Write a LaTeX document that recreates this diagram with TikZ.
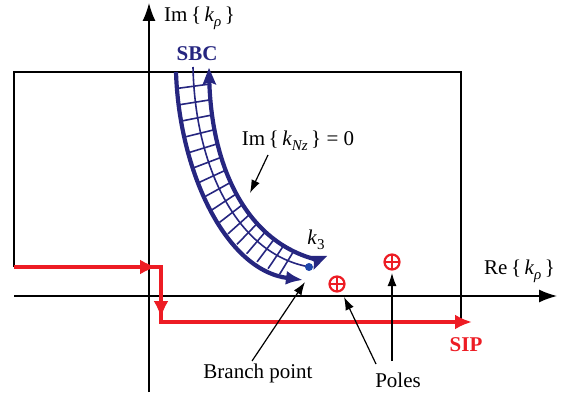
\documentclass[tikz,border=0pt]{standalone}
\usepackage{fontspec}
\setmainfont{Liberation Serif}
\usetikzlibrary{arrows.meta,calc}
\definecolor{navy}{RGB}{38,38,128}
\definecolor{dotblue}{RGB}{30,70,170}
\definecolor{sred}{RGB}{237,28,36}
\newcommand\subsc[1]{\raisebox{-5pt}{\fontsize{15}{15}\selectfont #1}}
\begin{document}
\begin{tikzpicture}[x=1pt,y=-1pt,
  lbl/.style={font=\fontsize{21}{24}\selectfont, inner sep=0pt},
  blbl/.style={font=\fontsize{21}{24}\selectfont\bfseries, inner sep=0pt},
  axis/.style={line width=1.4pt,-{Latex[length=18pt,width=13pt]}},
  frame/.style={line width=1.8pt},
  redpath/.style={draw=sred,line width=3.5pt},
  redtip/.style={-{Latex[length=17pt,width=15pt]}},
  bthick/.style={draw=navy,line width=4.2pt},
  bthin/.style={draw=navy,line width=1.6pt},
  btip/.style={-{Latex[length=17pt,width=14pt]}},
  ptr/.style={line width=1.2pt,-{Latex[length=13pt,width=9pt]}},
  pole/.style={circle,draw=sred,line width=2.2pt,minimum size=15pt,inner sep=0pt,
    path picture={\draw[sred,line width=2pt] (path picture bounding box.north) -- (path picture bounding box.south) (path picture bounding box.west) -- (path picture bounding box.east);}}
]
\useasboundingbox (0,0) rectangle (565,398);

% axes
\coordinate (xa0) at (14,296); \coordinate (xa1) at (557,296);
\coordinate (ya0) at (149,392); \coordinate (ya1) at (149,3);
\draw[axis] (xa0) -- (xa1);
\draw[axis] (ya0) -- (ya1);

% frame
\coordinate (f1) at (14,267); \coordinate (f2) at (14,72);
\coordinate (f3) at (461,72); \coordinate (f4) at (461,322);
\draw[frame] (f1) -- (f2) -- (f3) -- (f4);

% red SIP path
\coordinate (r1) at (14,267); \coordinate (r2) at (161,267);
\coordinate (r3) at (161,322); \coordinate (r4) at (472,322);
\coordinate (a1) at (140,267); \coordinate (a1t) at (157,267);
\coordinate (a2) at (161,300); \coordinate (a2t) at (161,318);
\draw[redpath,redtip] (r1) -- (r2) -- (r3) -- (r4);
\draw[redpath,redtip] (a1) -- (a1t);
\draw[redpath,redtip] (a2) -- (a2t);

% blue band
\coordinate (Ls) at (176,72); \coordinate (L1c) at (179,170);
\coordinate (L2c) at (225,270); \coordinate (Le) at (303,280);
\coordinate (Us) at (209,68); \coordinate (U1c) at (211,165);
\coordinate (U2c) at (245,240); \coordinate (Ue) at (314,259);
\coordinate (Ms) at (193,67); \coordinate (M1c) at (195,168);
\coordinate (M2c) at (238,255); \coordinate (Me) at (310,267);
\foreach \i in {1,...,16}{
  \pgfmathsetmacro\tpos{0.056*\i}
  \path (Ls) .. controls (L1c) and (L2c) .. (Le) coordinate[pos=\tpos] (L\i);
  \path (Us) .. controls (U1c) and (U2c) .. (Ue) coordinate[pos=\tpos] (U\i);
  \draw[bthin] (L\i) -- (U\i);
}
\draw[bthin] (Ms) .. controls (M1c) and (M2c) .. (Me);
\draw[bthick,btip] (Ls) .. controls (L1c) and (L2c) .. (Le);
\draw[bthick,shorten <=10pt] (Us) .. controls (U1c) and (U2c) .. (Ue);
% arrowheads of the inner curve
\coordinate (UsB) at ($(Us)!17pt!(U1c)$);
\fill[navy] (Us) -- ($(UsB)!7pt!90:(Us)$) -- ($(UsB)!3pt!(Us)$) -- ($(UsB)!7pt!-90:(Us)$) -- cycle;
\coordinate (UeT) at (327,256);
\fill[navy] (UeT) -- (313.5,270) -- (314,262) -- (308.5,256) -- cycle;
\node[circle,fill=dotblue,inner sep=0pt,minimum size=8pt] (k3pt) at (309,267) {};

% poles
\node[pole] (p1) at (337,284) {};
\node[pole] (p2) at (392,262) {};

% labels
\node[lbl,anchor=west] (imk) at (164,18) {Im\,\{\,\textit{k}\subsc{\textit{ρ}}\,\}};
\node[lbl,anchor=west] (rek) at (484,271) {Re\,\{\,\textit{k}\subsc{\textit{ρ}}\,\}};
\node[blbl,text=navy] (sbc) at (197,54) {SBC};
\node[blbl,text=sred] (sip) at (466,345) {SIP};
\node[lbl] (imkn) at (298,141) {Im\,\{\,\textit{k}\subsc{\textit{Nz}}\,\} = 0};
\node[lbl] (k3) at (316,240) {\textit{k}\subsc{3}};
\node[lbl] (bp) at (258,373) {Branch point};
\node[lbl] (poles) at (398,380) {Poles};

% pointers
\coordinate (bps) at (252,361); \coordinate (bpt) at (305,282);
\draw[ptr] (bps) -- (bpt);
\coordinate (pa1) at (376,364); \coordinate (pa1t) at (344,297);
\draw[ptr] (pa1) -- (pa1t);
\coordinate (pa2) at (392,361); \coordinate (pa2t) at (392,273);
\draw[ptr] (pa2) -- (pa2t);
\coordinate (ia) at (268,155); \coordinate (iat) at (250,193);
\draw[ptr] (ia) -- (iat);
\end{tikzpicture}
\end{document}
